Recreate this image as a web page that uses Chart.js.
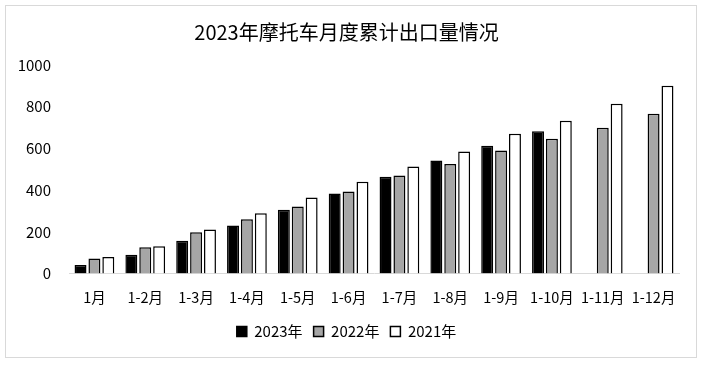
<!DOCTYPE html>
<html>
<head>
<meta charset="utf-8">
<script src="https://cdn.jsdelivr.net/npm/chart.js@4/dist/chart.umd.min.js"></script>
<style>
  body { margin: 0; background: #fff; }
  #frame {
    position: absolute; left: 5px; top: 5px;
    width: 690px; height: 351px;
    border: 1px solid #d9d9d9; background: #fff;
  }
  canvas { display: block; }
</style>
</head>
<body>
<div id="frame"><canvas id="chart" width="690" height="351"></canvas></div>
<script>
const months = ["1月", "1-2月", "1-3月", "1-4月", "1-5月", "1-6月", "1-7月", "1-8月", "1-9月", "1-10月", "1-11月", "1-12月"];
const y2023 = [41, 90, 157, 230, 306, 384, 464, 542, 613, 683, null, null];
const y2022 = [72, 126, 198, 260, 322, 394, 470, 526, 590, 647, 699, 766];
const y2021 = [79, 131, 211, 289, 365, 440, 513, 585, 671, 733, 814, 900];
const yTicks = [0, 200, 400, 600, 800, 1000];

const font = "'Noto Sans CJK SC', 'Liberation Sans', sans-serif";

function series(label, data, fill) {
  return {
    label: label,
    data: data,
    backgroundColor: fill,
    borderColor: "#000",
    borderWidth: 1.5,
    barPercentage: 0.86,
    categoryPercentage: 0.82
  };
}

new Chart(document.getElementById("chart"), {
  type: "bar",
  data: {
    labels: months,
    datasets: [
      series("2023年", y2023, "#000000"),
      series("2022年", y2022, "#a6a6a6"),
      series("2021年", y2021, "#ffffff")
    ]
  },
  options: {
    responsive: false,
    animation: false,
    layout: { padding: { left: 8, right: 17, top: 4, bottom: 8 } },
    plugins: {
      title: {
        display: true,
        text: "2023年摩托车月度累计出口量情况",
        color: "#000",
        font: { family: font, size: 20, weight: "normal" },
        padding: { top: 10, bottom: 21 }
      },
      legend: {
        position: "bottom",
        labels: {
          color: "#000",
          font: { family: font, size: 15 },
          boxWidth: 10,
          boxHeight: 10,
          padding: 11
        }
      },
      tooltip: { enabled: false }
    },
    scales: {
      x: {
        grid: { display: false },
        border: { color: "#d9d9d9" },
        ticks: { color: "#000", font: { family: font, size: 14.5 }, padding: 7, maxRotation: 0 }
      },
      y: {
        min: 0,
        max: 1000,
        afterBuildTicks: axis => { axis.ticks = yTicks.map(v => ({ value: v })); },
        afterFit: axis => { axis.width = 55; },
        grid: { display: false, drawTicks: false },
        border: { display: false },
        ticks: {
          color: "#000",
          font: { family: font, size: 15 },
          padding: 18,
          callback: v => String(v)
        }
      }
    }
  }
});
</script>
</body>
</html>
